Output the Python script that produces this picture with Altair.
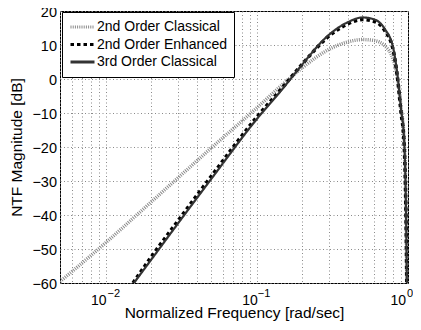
import altair as alt
import pandas as pd

FONT = "Liberation Sans"

series_names = ["2nd Order Classical", "2nd Order Enhanced", "3rd Order Classical"]

f_classical = [0.005, 0.01, 0.02, 0.05, 0.1, 0.15, 0.2, 0.3, 0.4, 0.5, 0.6, 0.7, 0.8, 0.85, 0.9, 0.94, 0.96, 0.975, 0.985]
db_classical = [-59.6, -48.2, -36.2, -20.3, -8.5, -1.4, 3.3, 8.7, 10.9, 11.6, 11.3, 9.8, 5.5, 0.5, -8.5, -17, -27, -45, -65]

f_enhanced = [0.0152, 0.02, 0.03, 0.05, 0.1, 0.15, 0.2, 0.3, 0.4, 0.5, 0.6, 0.7, 0.8, 0.85, 0.9, 0.94, 0.96, 0.975, 0.985]
db_enhanced = [-60, -52.4, -41.8, -28.6, -11.2, -2.2, 4.4, 12.6, 16.2, 17.5, 16.9, 14.3, 8.3, 0.8, -10, -18, -30, -48, -68]

f_third = [0.0154, 0.02, 0.03, 0.05, 0.1, 0.15, 0.2, 0.3, 0.4, 0.5, 0.6, 0.7, 0.8, 0.85, 0.9, 0.94, 0.96, 0.975, 0.985]
db_third = [-60, -53.2, -42.6, -29.4, -11.8, -2.6, 4.3, 13.0, 16.7, 18.1, 17.5, 14.8, 8.9, 1.5, -9, -17, -28, -46, -66]

grid_x = [0.005, 0.006, 0.007, 0.008, 0.009,
          0.01, 0.02, 0.03, 0.04, 0.05, 0.06, 0.07, 0.08, 0.09,
          0.1, 0.2, 0.3, 0.4, 0.5, 0.6, 0.7, 0.8, 0.9, 1.0]
y_ticks = [-60, -50, -40, -30, -20, -10, 0, 10, 20]

tick_vals = [0.01, 0.1, 1.0]
tick_base = ["10", "10", "10"]
tick_exp = ["\u22122", "\u22121", "0"]

series_data = {
    series_names[0]: (f_classical, db_classical),
    series_names[1]: (f_enhanced, db_enhanced),
    series_names[2]: (f_third, db_third),
}
series_widths = [3.5, 3.5, 2.2]

xscale = alt.Scale(type="log", domain=[0.005, 1], nice=False)
yscale = alt.Scale(domain=[-60, 20], nice=False)

xaxis = alt.Axis(values=grid_x, labels=False, ticks=False, domain=False,
                 title="Normalized Frequency [rad/sec]", titlePadding=22)
yaxis = alt.Axis(values=y_ticks, ticks=False, domain=False, labelPadding=3.5, labelOffset=1,
                 title="NTF Magnitude [dB]", titlePadding=7)

xenc = alt.X("f:Q", scale=xscale, axis=xaxis)
yenc = alt.Y("db:Q", scale=yscale, axis=yaxis)
cenc = alt.Color("series:N", title=None,
                 scale=alt.Scale(domain=series_names, range=["#8a8a8a", "#000000", "#333333"]))
denc = alt.StrokeDash("series:N", title=None,
                      scale=alt.Scale(domain=series_names, range=[[1, 1.2], [3.5, 3], [1, 0]]))

layers = []
for name, w in zip(series_names, series_widths):
    fs, ds = series_data[name]
    sdf = pd.DataFrame({"series": [name] * len(fs), "f": fs, "db": ds})
    layers.append(alt.Chart(sdf).mark_line(clip=True, interpolate="monotone", strokeWidth=w).encode(
        x=xenc, y=yenc, color=cenc, strokeDash=denc))

base_dx = [1, 1, -2]
exp_dx = [2, 1, -1]
for i in range(len(tick_vals)):
    tdf = pd.DataFrame({"f": [tick_vals[i]], "base": [tick_base[i]], "exp": [tick_exp[i]]})
    layers.append(alt.Chart(tdf).mark_text(align="right", baseline="alphabetic", dx=base_dx[i],
                                           fontSize=14, font=FONT, color="black").encode(
        x=xenc, y=alt.value(294), text="base:N"))
    layers.append(alt.Chart(tdf).mark_text(align="left", baseline="alphabetic", dx=exp_dx[i],
                                           fontSize=11, font=FONT, color="black").encode(
        x=xenc, y=alt.value(286), text="exp:N"))

chart = alt.layer(*layers).properties(
    width=348, height=272,
    autosize=alt.AutoSizeParams(type="none"),
    padding={"left": 52, "top": 3, "right": 5, "bottom": 39},
).configure_view(
    stroke="black", strokeWidth=1
).configure_axis(
    grid=True, gridColor="#8a8a8a", gridDash=[1, 2.5], gridWidth=1,
    labelFont=FONT, labelFontSize=14.5, labelColor="black",
    titleFont=FONT, titleFontSize=15.5, titleFontWeight="normal", titleColor="black",
).configure_legend(
    orient="none", legendX=2, legendY=1,
    fillColor="white", strokeColor="black", padding=7,
    symbolType="stroke", symbolSize=576, symbolStrokeWidth=3, clipHeight=16,
    labelFont=FONT, labelFontSize=14, labelColor="black", labelOffset=1,
    rowPadding=1.5, labelLimit=300,
)

chart.save("out.html", embed_options={"renderer": "svg", "actions": False})
